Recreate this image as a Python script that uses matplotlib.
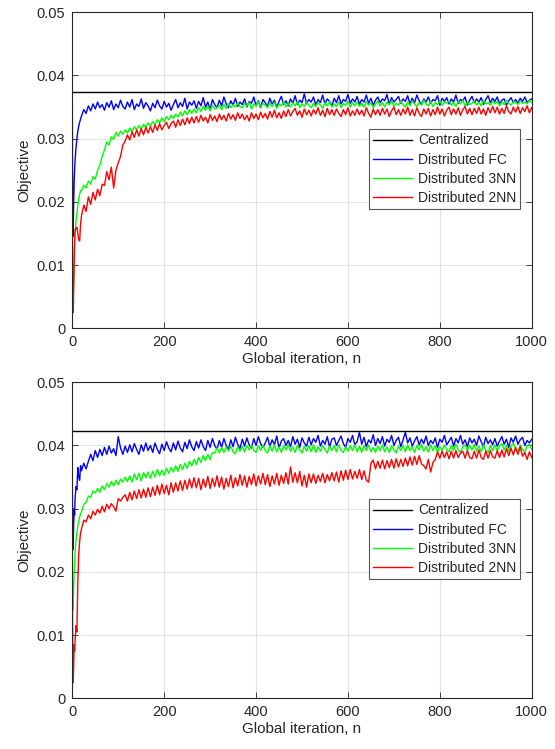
import numpy as np
import matplotlib
matplotlib.use("Agg")
import matplotlib.pyplot as plt

plt.rcParams['font.family'] = ['Liberation Sans', 'DejaVu Sans']

# Iterations: first 13 samples, then every 5 iterations from 20 to 1000
n_early = [0, 1, 2, 3, 4, 5, 6, 8, 10, 12, 14, 16, 18]

# Values in units of 1e-4 (objective = value / 10000)
centralized_top = 374
centralized_bot = 423

top_fc = [360,145,160,200,230,250,265,285,300,312,320,326,331,
    336,346,340,352,344,355,347,358,349,354,
    345,357,350,360,346,355,349,361,351,347,
    358,350,362,346,355,351,363,348,357,352,
    344,356,349,361,352,347,359,350,356,345,
    354,362,349,357,351,364,347,358,353,360,
    348,359,352,365,350,358,346,362,354,349,
    361,352,366,355,349,360,353,364,351,358,
    354,363,350,359,356,366,352,360,349,362,
    357,351,364,355,361,350,359,367,354,360,
    352,363,356,368,354,361,357,371,355,362,
    358,366,353,362,357,369,355,363,359,352,
    364,357,368,355,362,359,370,356,363,358,
    367,354,362,358,369,356,364,353,361,366,
    357,363,360,370,354,365,358,362,367,356,
    363,359,368,355,364,357,369,360,354,363,
    358,366,356,362,360,368,353,364,359,365,
    355,363,358,369,356,362,360,366,353,361,
    367,357,363,358,365,354,362,368,357,364,
    359,366,355,361,363,353,360,365,357,362,
    356,364,359,366,357,361,363]

top_3nn = [40,35,50,80,110,135,150,170,182,195,205,212,218,
    218,226,222,233,228,240,236,250,258,272,
    282,295,290,303,299,310,304,312,307,314,
    309,317,311,319,314,321,315,323,318,325,
    320,327,322,330,325,333,327,335,330,337,
    332,339,334,342,336,344,338,346,340,347,
    341,349,343,351,345,352,344,353,347,349,
    353,346,355,348,356,349,354,350,357,351,
    349,356,351,358,347,355,352,359,350,356,
    353,349,357,351,358,348,355,352,359,350,
    356,350,357,352,359,349,355,351,358,353,
    349,356,351,358,353,348,357,352,359,350,
    355,351,358,349,356,353,359,350,357,352,
    358,351,356,350,359,353,357,349,355,360,
    352,357,350,358,354,360,351,356,353,359,
    354,350,358,352,360,355,351,357,353,361,
    355,352,359,351,357,354,360,353,358,356,
    360,353,357,351,359,355,361,352,358,354,
    356,360,353,358,352,361,355,357,353,360,
    355,359,352,358,354,361,356,353,359,357,
    354,360,356,358,355,361,357]

top_2nn = [140,30,25,60,100,140,155,158,160,150,140,138,165,
    178,195,185,208,196,215,203,220,210,228,
    226,248,235,255,222,250,262,272,290,296,
    306,298,311,302,314,304,316,306,318,309,
    319,310,322,313,324,314,321,326,316,324,
    328,318,330,321,331,322,333,324,334,325,
    335,326,337,328,334,325,338,329,336,327,
    339,330,337,328,340,331,338,329,341,332,
    339,330,337,328,341,332,339,330,342,333,
    340,331,343,334,345,333,341,332,344,335,
    346,336,343,348,337,344,334,347,338,345,
    336,346,339,349,337,345,335,348,338,346,
    337,347,340,335,346,338,349,336,344,337,
    347,338,345,336,349,340,334,347,338,346,
    337,348,339,347,335,344,350,338,346,337,
    347,339,350,337,346,336,349,340,335,347,
    339,348,336,346,338,350,339,347,336,345,
    350,338,347,339,349,337,346,351,339,348,
    338,348,340,350,339,347,337,349,341,351,
    341,350,339,348,340,352,343,339,350,342,
    351,340,349,343,352,341,349]

bot_fc = [350,235,250,275,300,290,315,335,330,365,350,345,368,
    360,372,363,375,386,376,392,381,394,384,
    397,386,399,388,395,384,414,396,386,399,
    389,401,390,403,394,386,401,391,404,392,
    400,389,404,394,387,402,392,406,396,390,
    404,393,407,396,390,405,395,409,398,392,
    406,396,409,398,392,408,397,411,400,394,
    408,397,411,400,394,409,398,413,402,395,
    410,399,412,401,396,411,400,414,403,397,
    404,413,398,409,401,415,396,407,411,400,
    408,398,414,402,410,397,412,404,399,413,
    401,411,405,416,399,408,402,414,397,410,
    412,400,408,415,403,397,411,405,416,401,
    406,421,402,413,398,409,404,417,400,411,
    403,414,399,410,405,416,400,408,413,398,
    409,421,404,412,399,407,414,401,410,403,
    415,400,408,403,412,397,410,405,416,401,
    407,413,399,411,404,416,402,409,398,412,
    404,410,400,415,406,398,413,403,409,401,
    411,399,407,414,402,410,397,412,405,415,
    402,409,413,400,408,404,410]

bot_3nn = [200,140,150,175,200,215,230,250,262,272,280,287,292,
    295,307,310,320,318,328,325,332,326,336,
    330,340,334,343,336,345,338,347,342,350,
    343,352,342,355,346,356,344,357,349,358,
    348,359,350,362,352,361,353,364,356,365,
    358,368,359,370,362,372,364,375,368,378,
    370,381,373,384,376,386,378,389,388,396,
    388,397,389,398,391,399,390,387,398,391,
    399,390,400,393,401,392,389,400,392,401,
    392,388,400,391,401,390,398,389,400,393,
    401,391,398,389,400,393,388,399,391,400,
    390,401,389,398,391,400,394,388,399,392,
    400,390,401,392,389,398,391,400,392,401,
    390,399,389,400,392,401,390,397,389,399,
    392,401,390,398,389,400,393,388,399,392,
    400,390,401,392,398,389,400,393,402,391,
    398,390,401,392,400,389,398,392,401,393,
    390,400,392,402,393,389,398,401,392,400,
    393,402,391,399,390,401,393,389,400,392,
    401,392,399,403,393,401,391,399,404,394,
    391,401,393,390,399,402,394]

bot_2nn = [200,50,25,55,85,75,90,115,105,185,228,248,262,
    268,282,279,290,284,296,290,299,293,304,
    295,307,300,308,303,296,316,312,318,322,
    312,326,314,328,316,330,317,331,318,333,
    319,334,321,337,322,339,324,337,322,341,
    326,341,328,344,329,345,331,347,333,349,
    333,348,330,347,334,351,332,348,335,352,
    334,350,331,348,335,353,333,349,336,354,
    337,352,334,351,338,355,336,352,339,356,
    338,354,335,352,339,356,337,353,340,357,
    339,366,342,357,341,359,336,353,334,355,
    341,355,340,353,343,356,341,354,344,357,
    344,358,342,360,345,361,346,362,347,359,
    348,362,346,360,345,342,372,377,363,375,
    364,377,363,376,365,378,364,379,366,378,
    367,380,368,382,369,383,370,384,371,368,
    363,378,358,373,378,390,380,391,381,390,
    379,391,380,392,381,388,391,380,392,381,
    379,391,380,393,381,378,391,380,392,382,
    380,392,381,393,382,395,384,396,385,397,
    386,398,383,389,378,390,381]

labels = ["Centralized", "Distributed FC", "Distributed 3NN", "Distributed 2NN"]
colors = ["#000000", "#0000ff", "#00ff00", "#ff0000"]
xticks = [0, 200, 400, 600, 800, 1000]
yticks = [0, 0.01, 0.02, 0.03, 0.04, 0.05]
ytick_labels = ["0", "0.01", "0.02", "0.03", "0.04", "0.05"]


def iters(vals):
    return np.concatenate([n_early, 20 + 5 * np.arange(len(vals) - len(n_early))])


W, H = 555, 749
fig = plt.figure(figsize=(W / 100, H / 100), dpi=100)
txt = "#262626"

panels = [
    (centralized_top, top_fc, top_3nn, top_2nn, 328.3),
    (centralized_bot, bot_fc, bot_3nn, bot_2nn, 698.3),
]

for cval, fc, nn3, nn2, ybot in panels:
    ax = fig.add_axes([72.3 / W, 1 - ybot / H, 459.4 / W, 316 / H])
    ax.plot([0, 1000], [cval / 1e4, cval / 1e4], color=colors[0], lw=1.0, label=labels[0])
    for vals, col, lab in [(fc, colors[1], labels[1]), (nn3, colors[2], labels[2]), (nn2, colors[3], labels[3])]:
        ax.plot(iters(vals), np.array(vals) / 1e4, color=col, lw=1.0, label=lab)
    ax.set_xlim(0, 1000)
    ax.set_ylim(0, 0.05)
    ax.set_xticks(xticks)
    ax.set_yticks(yticks)
    ax.set_yticklabels(ytick_labels)
    ax.grid(True, color="#e3e3e3", lw=0.8)
    ax.set_axisbelow(True)
    ax.tick_params(direction="in", length=4, width=0.6, top=True, right=True,
                   labelsize=10.5, colors=txt, pad=5)
    for sp in ax.spines.values():
        sp.set_color(txt)
        sp.set_linewidth(0.8)
    ax.set_xlabel("Global iteration, n", fontsize=11, color=txt, labelpad=2)
    ax.set_ylabel("Objective", fontsize=11, color=txt, labelpad=4)
    leg = ax.legend(loc="upper left", bbox_to_anchor=(0.645, 0.63), fontsize=10,
                    frameon=True, fancybox=False, framealpha=1, edgecolor="#555555",
                    handlelength=2.8, handletextpad=0.45, labelspacing=0.38,
                    borderpad=0.3, borderaxespad=0.0)
    leg.get_frame().set_linewidth(0.8)
    for t in leg.get_texts():
        t.set_color(txt)

fig.savefig("out.png", dpi=100)
